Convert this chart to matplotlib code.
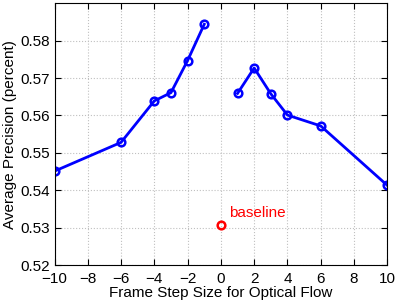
import matplotlib
matplotlib.use('Agg')
import matplotlib.pyplot as plt

plt.rcParams['font.family'] = ['Liberation Sans', 'DejaVu Sans']

# frame step sizes (negative = backward) and average precision
neg_steps = [-10, -6, -4, -3, -2, -1]
neg_prec = [0.5451, 0.5528, 0.5639, 0.5661, 0.5747, 0.5844]
pos_steps = [1, 2, 3, 4, 6, 10]
pos_prec = [0.5659, 0.5727, 0.5658, 0.5601, 0.5572, 0.5413]
base_step = [0]
base_prec = [0.5308]

fig = plt.figure(figsize=(3.99, 3.01), dpi=100)
ax = fig.add_axes([0.1366, 0.1196, 0.834, 0.8694])

for xs, ys in [(neg_steps, neg_prec), (pos_steps, pos_prec)]:
    ax.plot(xs, ys, '-o', color='#0000ff', lw=2, ms=5.5, mew=1.8,
            mfc='none')
ax.plot(base_step, base_prec, 'o', color='#ff0000', ms=5.5, mew=1.8, mfc='none')
ax.text(0.5, base_prec[0] + 0.0012, 'baseline', color='#ff0000', fontsize=11,
        va='bottom', ha='left')

ax.set_xlim(-10, 10)
ax.set_ylim(0.52, 0.59)
ax.set_xticks(range(-10, 11, 2))
ax.set_xticklabels([str(v).replace('-', '\u2212') for v in range(-10, 11, 2)])
ax.set_yticks([0.52, 0.53, 0.54, 0.55, 0.56, 0.57, 0.58])
ax.set_yticklabels(['0.52', '0.53', '0.54', '0.55', '0.56', '0.57', '0.58'])
ax.tick_params(direction='in', top=True, right=True, labelsize=11, length=4)
ax.tick_params(axis='x', pad=5)
ax.tick_params(axis='y', pad=3)
ax.grid(True, linestyle=':', color='#c0c0c0', lw=0.8)
for s in ax.spines.values():
    s.set_linewidth(0.8)
ax.set_xlabel('Frame Step Size for Optical Flow', fontsize=11, labelpad=0)
ax.set_ylabel('Average Precision (percent)', fontsize=11, labelpad=3)

fig.savefig('out.png', dpi=100)
